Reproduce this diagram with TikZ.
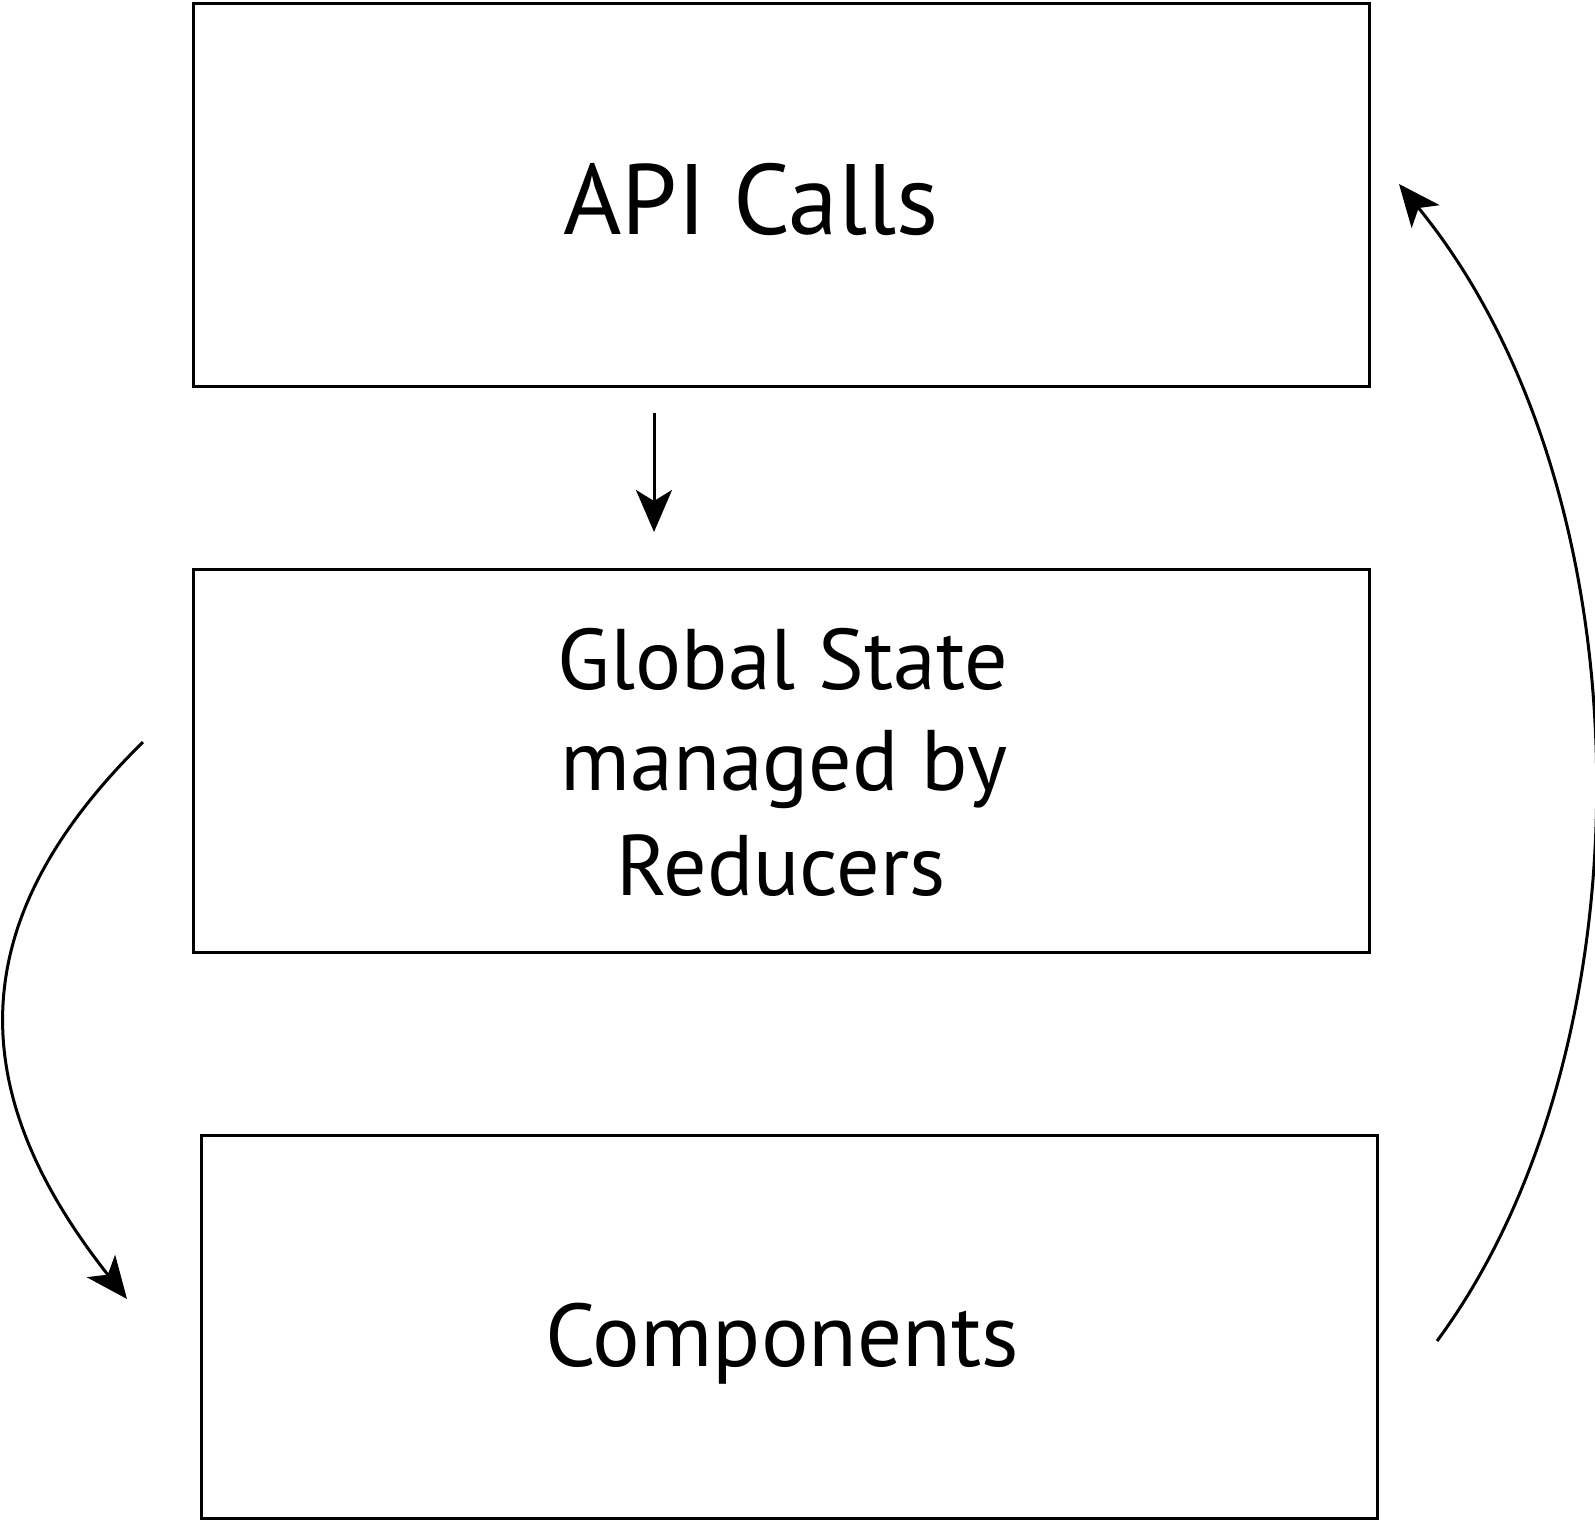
\documentclass[tikz,border=0pt]{standalone}
\usepackage{fontspec}
\setmainfont{PT Sans}
\usetikzlibrary{arrows.meta}
\begin{document}
\begin{tikzpicture}[x=1pt,y=-1pt,
  box/.style={draw,line width=3pt,minimum width=1176pt,minimum height=383pt,inner sep=0pt},
  conn/.style={line width=3pt,-{Stealth[length=42pt,width=36pt,inset=11pt]}},
  big/.style={font=\fontsize{100}{100}\selectfont,anchor=base},
  comp/.style={font=\fontsize{89}{89}\selectfont,anchor=base},
  mid/.style={font=\fontsize{86}{103}\selectfont,anchor=base}]
\useasboundingbox (0,0) rectangle (1595,1521);
\node[box] (api) at (781,194.5) {};
\node[box] (state) at (781,761) {};
\node[box] (comp) at (789,1327) {};
\node[big] (apit) at (751,234) {API Calls};
\node[mid] (s1) at (783,689) {Global State};
\node[mid] (s2) at (784,790) {managed by};
\node[mid] (s3) at (781,895) {Reducers};
\node[comp] (ct) at (782,1366) {Components};
\coordinate (a1) at (654,413);
\coordinate (a2) at (654,532);
\coordinate (l1) at (143,742);
\coordinate (l2) at (127,1299);
\coordinate (r1) at (1437,1341);
\coordinate (r2) at (1399,184);
\draw[conn] (l1) .. controls (-38,920) and (-38,1090) .. (l2);
\draw[conn] (a1) -- (a2);
\draw[conn] (r1) .. controls (1653,1049) and (1653,495) .. (r2);
\end{tikzpicture}
\end{document}
